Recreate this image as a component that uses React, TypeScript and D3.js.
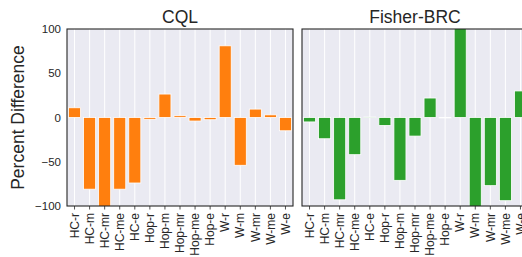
import React from 'react';
import * as d3 from 'd3';

const categories = [
  'HC-r', 'HC-m', 'HC-mr', 'HC-me', 'HC-e',
  'Hop-r', 'Hop-m', 'Hop-mr', 'Hop-me', 'Hop-e',
  'W-r', 'W-m', 'W-mr', 'W-me', 'W-e'
];

const cqlValues = [11, -81, -110, -81, -74, -2, 26.5, 2, -4, -2.5, 81, -54, 9.5, 3, -15];
const fisherValues = [-5, -24, -93, -42, 0.5, -9, -71, -21, 22, -0.5, 110, -110, -77, -94, 30];

const yTicks = [100, 50, 0, -50, -100];

const panels = [
  { name: 'CQL', values: cqlValues, color: '#ff7f0e', left: 67 },
  { name: 'Fisher-BRC', values: fisherValues, color: '#2ca02c', left: 302 }
];

const W = 522;
const H = 257;
const panelW = 226;
const top = 29;
const bottom = 206;
const font = '"Liberation Sans", Arial, sans-serif';

function Panel({ p, idx }: { p: typeof panels[0]; idx: number }) {
  const x = d3.scaleLinear().domain([-0.5, categories.length - 0.5]).range([0, panelW]);
  const y = d3.scaleLinear().domain([-100, 100]).range([bottom - top, 0]);
  const bw = x(0.4) - x(-0.4);
  const clipId = 'clip' + idx;

  return (
    <g transform={'translate(' + p.left + ',' + top + ')'}>
      <defs>
        <clipPath id={clipId}>
          <rect x={0} y={0} width={panelW} height={bottom - top} />
        </clipPath>
      </defs>
      <rect x={0} y={0} width={panelW} height={bottom - top} fill="#eaeaf2" />
      <g clipPath={'url(#' + clipId + ')'}>
        {categories.map((c, i) => (
          <line key={c} x1={x(i)} x2={x(i)} y1={0} y2={bottom - top} stroke="#fff" strokeWidth={1} />
        ))}
        {p.values.map((v, i) => (
          <rect
            key={i}
            x={x(i) - bw / 2}
            y={y(Math.max(0, v))}
            width={bw}
            height={Math.abs(y(v) - y(0))}
            fill={p.color}
            stroke="#fff"
            strokeWidth={0.8}
          />
        ))}
      </g>
      <rect x={0} y={0} width={panelW} height={bottom - top} fill="none" stroke="#262626" strokeWidth={1.1} />
      {categories.map((c, i) => (
        <g key={c} transform={'translate(' + x(i) + ',' + (bottom - top) + ')'}>
          <line y1={0} y2={3.5} stroke="#262626" strokeWidth={0.8} />
          <text
            transform="translate(0,7) rotate(-90)"
            textAnchor="end"
            dy="0.35em"
            fontSize={12}
            fill="#262626"
            fontFamily={font}
          >
            {c}
          </text>
        </g>
      ))}
      {idx === 0 && yTicks.map((t) => (
        <text
          key={t}
          x={-6}
          y={y(t)}
          dy="0.35em"
          textAnchor="end"
          fontSize={11.5}
          fill="#262626"
          fontFamily={font}
        >
          {t < 0 ? '\u2212' + Math.abs(t) : t}
        </text>
      ))}
      <text
        x={panelW / 2}
        y={-6}
        textAnchor="middle"
        fontSize={17.5}
        fill="#262626"
        fontFamily={font}
      >
        {p.name}
      </text>
    </g>
  );
}

export default function App() {
  return (
    <div style={{ position: 'absolute', left: 0, top: 0 }}>
      <svg width={W} height={H} style={{ display: 'block', background: '#fff' }}>
        {panels.map((p, i) => (
          <Panel key={p.name} p={p} idx={i} />
        ))}
        <text
          transform={'translate(24,' + (top + bottom) / 2 + ') rotate(-90)'}
          textAnchor="middle"
          fontSize={17.5}
          fill="#262626"
          fontFamily={font}
        >
          Percent Difference
        </text>
      </svg>
    </div>
  );
}
